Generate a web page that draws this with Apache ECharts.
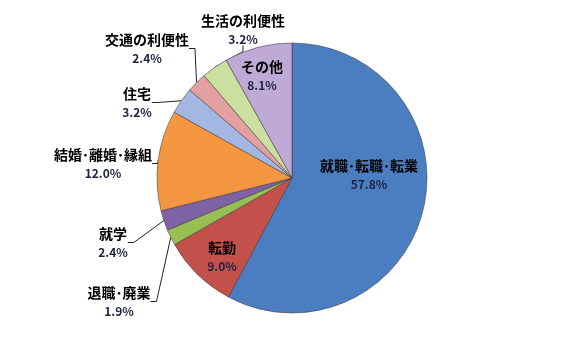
<!DOCTYPE html>
<html><head><meta charset="utf-8">
<script src="https://cdn.jsdelivr.net/npm/echarts@6/dist/echarts.min.js"></script>
<style>html,body{margin:0;padding:0;background:#fff}#c{width:583px;height:361px}</style>
</head><body><div id="c"></div>
<script>
const categories = ['就職･転職･転業','転勤','退職･廃業','就学','結婚･離婚･縁組','住宅','交通の利便性','生活の利便性','その他'];
const values = [57.8, 9.0, 1.9, 2.4, 12.0, 3.2, 2.4, 3.2, 8.1];
const colors = ['#4A7EC0','#C4504C','#98BF54','#7F62A3','#F59640','#A3B7E2','#E4A0A0','#CBDFA0','#BFA9D6'];
const insideLabel = [true,true,false,false,false,false,false,false,true];
// label anchor positions (px)
const labelPos = [[369,175],[222,257],[119,302],[113,243],[103,164],[137,103],[147,49],[243,30],[262,76]];

const chart = echarts.init(document.getElementById('c'), null, {renderer:'canvas'});
chart.setOption({
  animation:false,
  series:[{
    type:'pie',
    center:[292,178],
    radius:135,
    startAngle:90,
    clockwise:true,
    itemStyle:{borderColor:'rgba(60,60,60,0.55)',borderWidth:1},
    label:{
      show:true,
      fontFamily:'Noto Sans CJK JP',
      formatter: p => '{n|' + p.name + '}\n{p|' + p.value.toFixed(1) + '%}',
      rich:{
        n:{fontFamily:'Noto Sans CJK JP',fontSize:14,fontWeight:'bold',color:'#000',lineHeight:19,align:'center'},
        p:{fontFamily:'Noto Sans CJK JP',fontSize:12,fontWeight:'bold',color:'#1c2240',lineHeight:19,align:'center'}
      }
    },
    labelLine:{show:true,length:10,length2:6,lineStyle:{color:'#222',width:1}},
    labelLayout: params => {
      const p = labelPos[params.dataIndex];
      return {x:p[0], y:p[1], align:'center', verticalAlign:'middle'};
    },
    data: categories.map((c,i)=>({
      name:c, value:values[i],
      itemStyle:{color:colors[i]},
      labelLine:{show:!insideLabel[i]}
    }))
  }]
});
</script></body></html>
